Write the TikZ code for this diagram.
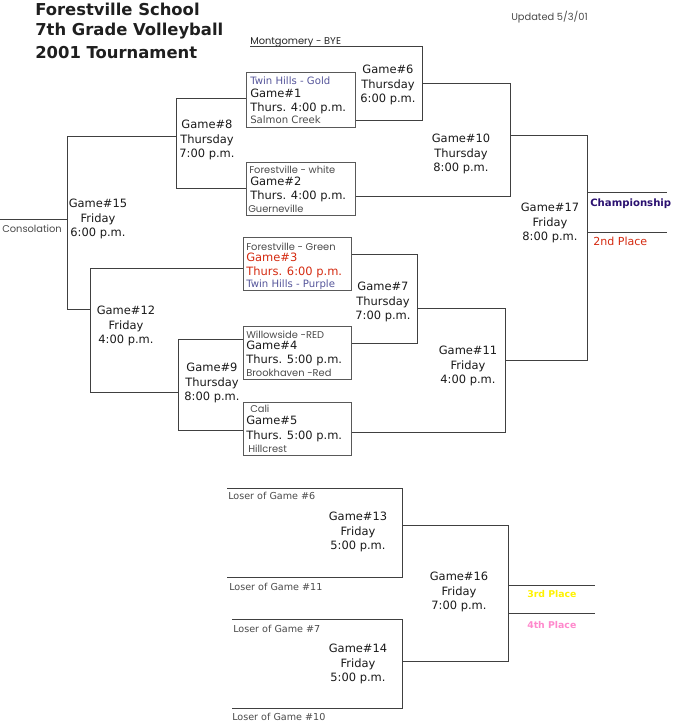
\documentclass[tikz,border=0pt]{standalone}
\usepackage{fontspec}
\setmainfont{DejaVu Sans}
\newfontfamily\gothic{Poppins}
\definecolor{teamgray}{HTML}{4A4A4A}
\definecolor{teamblue}{HTML}{55559A}
\definecolor{gamered}{HTML}{D42A10}
\definecolor{champblue}{HTML}{2A1070}
\definecolor{placepink}{HTML}{FF88CC}
\tikzset{
  bline/.style={draw=black!75, line width=0.75pt},
  teambox/.style 2 args={draw=black!65, line width=0.75pt, inner sep=0pt,
    minimum width=#1*0.75pt, minimum height=#2*0.75pt},
  gamelab/.style={align=center, inner sep=0pt, text=black!90,
    font=\fontsize{8.6}{10.6}\selectfont},
  boxtxt/.style={anchor=base west, inner sep=0pt, text=black!90,
    font=\fontsize{8.6}{10}\selectfont},
  teamtxt/.style={anchor=base west, inner sep=0pt, text=teamgray,
    font=\fontsize{7.6}{9}\selectfont},
  gothtxt/.style={anchor=base west, inner sep=0pt, text=teamgray,
    font=\gothic\fontsize{7.4}{9}\selectfont},
}
\begin{document}
\begin{tikzpicture}[x=0.75pt, y=-0.75pt]
  \useasboundingbox (0,0) rectangle (674,721);

  % Title
  \foreach \i/\y/\txt in {1/15/Forestville School, 2/36/7th Grade Volleyball, 3/58/2001 Tournament}
    \node[anchor=base west, inner sep=0pt, text=black!88, font=\bfseries\fontsize{12.3}{14}\selectfont] (title\i) at (35,\y) {\txt};
  \node[gothtxt] (updated) at (511,21) {Updated 5/3/01};

  % Team boxes
  \node[teambox={109}{55}] (g1) at (300.5,99.5) {};
  \node[teambox={109}{53}] (g2) at (300.5,188.5) {};
  \node[teambox={108}{53}] (g3) at (297,263.5) {};
  \node[teambox={108}{53}] (g4) at (297,352.5) {};
  \node[teambox={108}{53}] (g5) at (297,428.5) {};

  \node[teamtxt, text=teamblue] (g1top) at (250,84) {Twin Hills - Gold};
  \node[boxtxt] (g1game) at (250,97) {Game\#1};
  \node[boxtxt] (g1time) at (250,111) {Thurs. 4:00 p.m.};
  \node[teamtxt] (g1bot) at (250,123) {Salmon Creek};

  \node[gothtxt] (g2top) at (249,173.5) {Forestville - white};
  \node[boxtxt] (g2game) at (250,185.5) {Game\#2};
  \node[boxtxt] (g2time) at (250,199) {Thurs. 4:00 p.m.};
  \node[gothtxt] (g2bot) at (248,212) {Guerneville};

  \node[gothtxt] (g3top) at (246,250) {Forestville - Green};
  \node[boxtxt, text=gamered] (g3game) at (246,261) {Game\#3};
  \node[boxtxt, text=gamered] (g3time) at (246,275) {Thurs. 6:00 p.m.};
  \node[teamtxt, text=teamblue] (g3bot) at (246,287) {Twin Hills - Purple};

  \node[gothtxt] (g4top) at (246,338) {Willowside -RED};
  \node[boxtxt] (g4game) at (246,349) {Game\#4};
  \node[boxtxt] (g4time) at (246,363) {Thurs. 5:00 p.m.};
  \node[gothtxt] (g4bot) at (246,376) {Brookhaven -Red};

  \node[gothtxt] (g5top) at (250,412) {Cali};
  \node[boxtxt] (g5game) at (246,424) {Game\#5};
  \node[boxtxt] (g5time) at (246,439) {Thurs. 5:00 p.m.};
  \node[gothtxt] (g5bot) at (248,452) {Hillcrest};

  \node[gothtxt, text=black!85] (bye) at (250,44) {Montgomery - BYE};

  % Bracket joints: top, output, bottom
  \foreach \n/\x/\yt/\yo/\yb in {6/422/46/83/120, 10/510/83/135/196, 17/587/135/192/360,
      8/176/98/136/188, 15/67/136/219/309, 12/90/268/309/392, 9/178/339/392/430,
      7/417/254/308/343, 11/505/308/360/432, 13/402/488/525/577, 14/402/619/661/708,
      16/508/525/585/661} {
    \coordinate (t\n) at (\x,\yt);
    \coordinate (o\n) at (\x,\yo);
    \coordinate (b\n) at (\x,\yb);
  }
  \coordinate (cons) at (0,219);
  \coordinate (champ) at (667,192);
  \coordinate (second) at (667,232);
  \coordinate (third) at (595,585);
  \coordinate (fourth) at (595,613);
  \coordinate (l6) at (227,488);
  \coordinate (l11) at (227,577);
  \coordinate (l7) at (232,619);
  \coordinate (l10) at (232,708);

  % Winners side
  \draw[bline] (bye.base west |- t6) -- (t6) -- (b6) -- (g1.east |- b6);
  \draw[bline] (o6) -- (t10) -- (b10) -- (g2.east |- b10);
  \draw[bline] (g3.east |- t7) -- (t7) -- (b7) -- (g4.east |- b7);
  \draw[bline] (o7) -- (t11) -- (b11) -- (g5.east |- b11);
  \draw[bline] (o10) -- (t17) -- (b17) -- (o11);
  \draw[bline] (t17 |- champ) -- (champ);
  \draw[bline] (t17 |- second) -- (second);

  % Consolation side
  \draw[bline] (g1.west |- t8) -- (t8) -- (b8) -- (g2.west |- b8);
  \draw[bline] (g4.west |- t9) -- (t9) -- (b9) -- (g5.west |- b9);
  \draw[bline] (g3.west |- t12) -- (t12) -- (b12) -- (o9);
  \draw[bline] (o8) -- (t15) -- (b15) -- (o12);
  \draw[bline] (o15) -- (cons);

  % Losers bracket
  \draw[bline] (l6) -- (t13) -- (b13) -- (l11);
  \draw[bline] (l7) -- (t14) -- (b14) -- (l10);
  \draw[bline] (o13) -- (t16) -- (b16) -- (o14);
  \draw[bline] (t16 |- third) -- (third);
  \draw[bline] (t16 |- fourth) -- (fourth);

  % Game labels
  \foreach \n/\x/\y/\day/\time in {6/388/85/Thursday/6:00 p.m., 10/461/154/Thursday/8:00 p.m.,
      17/550/223/Friday/8:00 p.m., 8/207/140/Thursday/7:00 p.m., 15/98/219/Friday/6:00 p.m.,
      12/126/326/Friday/4:00 p.m., 9/212/383/Thursday/8:00 p.m., 7/383/302/Thursday/7:00 p.m.,
      11/468/366/Friday/4:00 p.m., 13/358/532/Friday/5:00 p.m., 16/459/592/Friday/7:00 p.m.,
      14/358/664/Friday/5:00 p.m.}
    \node[gamelab] (lab\n) at (\x,\y) {Game\#\n\\\day\\\time};

  % Places and losers
  \node[anchor=base west, inner sep=0pt, text=champblue, font=\bfseries\fontsize{7.6}{9}\selectfont] (champtxt) at (590,206) {Championship};
  \node[anchor=base west, inner sep=0pt, text=gamered, font=\fontsize{8.3}{9}\selectfont] (secondtxt) at (593,245) {2nd Place};
  \node[anchor=base west, inner sep=0pt, text=yellow, font=\bfseries\fontsize{7}{9}\selectfont] (thirdtxt) at (527,597) {3rd Place};
  \node[anchor=base west, inner sep=0pt, text=placepink, font=\bfseries\fontsize{7}{9}\selectfont] (fourthtxt) at (527,628) {4th Place};
  \node[gothtxt] (constxt) at (2,232) {Consolation};

  \node[teamtxt, font=\fontsize{7.2}{9}\selectfont] (lose6) at (228,499) {Loser of Game \#6};
  \node[teamtxt, font=\fontsize{7.2}{9}\selectfont] (lose11) at (229,590) {Loser of Game \#11};
  \node[teamtxt, font=\fontsize{7.2}{9}\selectfont] (lose7) at (233,632) {Loser of Game \#7};
  \node[teamtxt, font=\fontsize{7.2}{9}\selectfont] (lose10) at (232,720) {Loser of Game \#10};
\end{tikzpicture}
\end{document}
